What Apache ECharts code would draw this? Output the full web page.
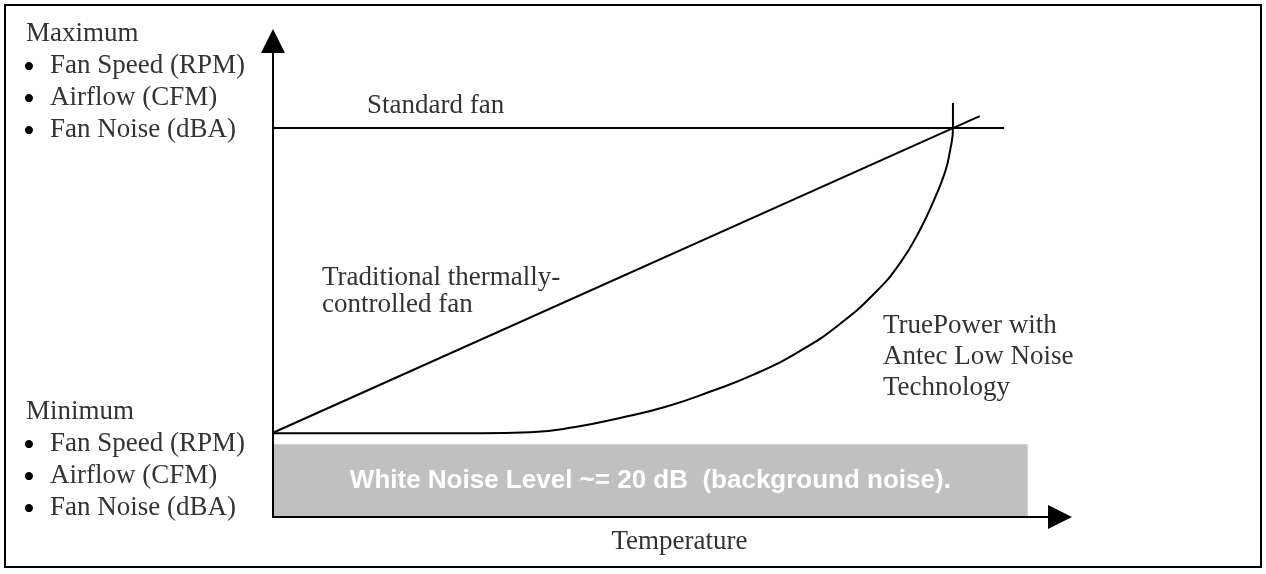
<!DOCTYPE html>
<html>
<head>
<meta charset="utf-8">
<script src="https://cdn.jsdelivr.net/npm/echarts@6/dist/echarts.min.js"></script>
<style>
  html, body { margin: 0; padding: 0; background: #fff; }
  #fan-chart { width: 1266px; height: 574px; }
</style>
</head>
<body>
<div id="fan-chart"></div>
<script>
// temperature (0..100) vs fan level (0..100)
var standardFan = [[0, 81.7], [92.9, 81.7]];
var traditionalFan = [[0, 17.7], [89.8, 84.2]];
var truePowerFan = [
    [0, 17.6], [9.8, 17.6], [18.7, 17.6], [26.4, 17.6], [32.7, 17.8],
    [38.4, 18.9], [44.1, 20.8], [49.8, 23.1], [55.5, 26.3], [61.2, 30.0],
    [67.0, 34.9], [72.0, 40.5], [76.5, 47.1], [79.7, 53.4], [82.2, 60.3],
    [84.1, 67.0], [85.4, 72.5], [86.0, 76.7], [86.4, 81.7], [86.4, 87.0]
];
// background noise band
var noiseBand = { xFrom: 0, xTo: 95.9, yFrom: 0, yTo: 15.3 };
var noiseText = 'White Noise Level ~= 20 dB  (background noise).';

var maxLabels = ['Maximum', 'Fan Speed (RPM)', 'Airflow (CFM)', 'Fan Noise (dBA)'];
var minLabels = ['Minimum', 'Fan Speed (RPM)', 'Airflow (CFM)', 'Fan Noise (dBA)'];
var standardLabel = 'Standard fan';
var traditionalLabel = ['Traditional thermally-', 'controlled fan'];
var truePowerLabel = ['TruePower with', 'Antec Low Noise', 'Technology'];
var xName = 'Temperature';

var serif = '"Liberation Serif", "DejaVu Serif", serif';
var textColor = '#333';

function textBlock(x, y, lines, lh, size, color) {
    return {
        type: 'text', left: x, top: y, z: 20, silent: true,
        style: {
            text: lines.join('\n'), fill: color || textColor,
            font: (size || 27) + 'px ' + serif, lineHeight: lh, verticalAlign: 'top'
        }
    };
}

function lineSeries(name, data, smooth) {
    return {
        name: name, type: 'line', data: data, smooth: smooth || false,
        symbol: 'none', silent: true, z: 5,
        lineStyle: { color: '#000', width: 2 }
    };
}

var axisCommon = {
    type: 'value', min: 0, max: 100, z: 10,
    axisLine: {
        show: true, symbol: ['none', 'triangle'], symbolSize: [24, 24],
        lineStyle: { color: '#000', width: 2 }
    },
    axisTick: { show: false },
    axisLabel: { show: false },
    splitLine: { show: false }
};

var bullets = ['\u2022', '\u2022', '\u2022'];

var option = {
    animation: false,
    backgroundColor: '#fff',
    grid: { left: 273, right: 206, top: 41, bottom: 57 },
    xAxis: Object.assign({}, axisCommon, {
        name: xName, nameLocation: 'middle', nameGap: 11,
        nameTextStyle: {
            fontFamily: serif, fontSize: 27, color: textColor,
            verticalAlign: 'top', padding: [0, 0, 0, 26]
        }
    }),
    yAxis: Object.assign({}, axisCommon),
    series: [
        {
            type: 'line', data: [], silent: true, z: 1,
            markArea: {
                silent: true,
                itemStyle: { color: '#c0c0c0' },
                label: {
                    show: true, position: 'inside', formatter: noiseText,
                    color: '#fff', fontFamily: '"Liberation Sans", Arial, sans-serif',
                    fontWeight: 'bold', fontSize: 26
                },
                data: [[
                    { xAxis: noiseBand.xFrom, yAxis: noiseBand.yFrom },
                    { xAxis: noiseBand.xTo, yAxis: noiseBand.yTo }
                ]]
            }
        },
        lineSeries('Standard fan', standardFan),
        lineSeries('Traditional', traditionalFan),
        lineSeries('TruePower', truePowerFan, 0.5)
    ],
    graphic: [
        // outer frame
        {
            type: 'rect', z: 30, silent: true,
            shape: { x: 5, y: 5, width: 1256, height: 562 },
            style: { fill: 'none', stroke: '#000', lineWidth: 2 }
        },
        textBlock(26, 18, maxLabels.slice(0, 1), 32),
        textBlock(23, 52, bullets, 32, 34, '#000'),
        textBlock(50, 50, maxLabels.slice(1), 32),
        textBlock(26, 396, minLabels.slice(0, 1), 32),
        textBlock(23, 430, bullets, 32, 34, '#000'),
        textBlock(50, 428, minLabels.slice(1), 32),
        textBlock(367, 90, [standardLabel], 32),
        textBlock(322, 264, traditionalLabel, 27),
        textBlock(883, 310, truePowerLabel, 31)
    ]
};

echarts.init(document.getElementById('fan-chart')).setOption(option);
</script>
</body>
</html>
